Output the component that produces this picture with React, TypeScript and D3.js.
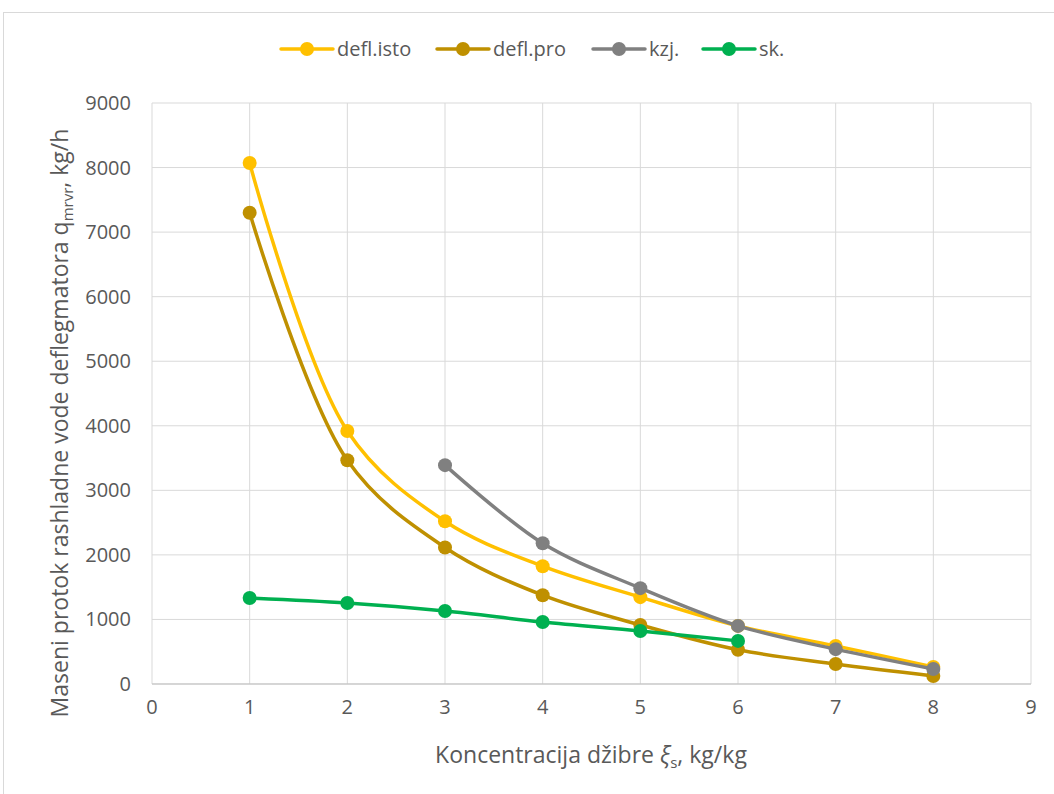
import React from "react";
import * as d3 from "d3";

const xIsto = [1, 2, 3, 4, 5, 6, 7, 8];
const yIsto = [8070, 3920, 2520, 1825, 1345, 900, 590, 265];
const xPro = [1, 2, 3, 4, 5, 6, 7, 8];
const yPro = [7300, 3465, 2115, 1375, 915, 530, 310, 125];
const xKzj = [3, 4, 5, 6, 7, 8];
const yKzj = [3390, 2180, 1485, 900, 540, 232];
const xSk = [1, 2, 3, 4, 5, 6];
const ySk = [1332, 1255, 1130, 960, 822, 668];

const seriesNames = ["defl.isto", "defl.pro", "kzj.", "sk."];
const seriesColors = ["#FFC000", "#BF9000", "#808080", "#00B050"];
const xTicks = [0, 1, 2, 3, 4, 5, 6, 7, 8, 9];
const yTicks = [0, 1000, 2000, 3000, 4000, 5000, 6000, 7000, 8000, 9000];

const W = 1054, H = 794;
const left = 152, right = 1031, top = 103, bottom = 684;
const font = "'Open Sans', sans-serif";

export default function App() {
  const x = d3.scaleLinear().domain([0, 9]).range([left, right]);
  const y = d3.scaleLinear().domain([0, 9000]).range([bottom, top]);
  const series = [
    { xs: xIsto, ys: yIsto },
    { xs: xPro, ys: yPro },
    { xs: xKzj, ys: yKzj },
    { xs: xSk, ys: ySk },
  ];
  const line = d3
    .line<[number, number]>()
    .x((d) => x(d[0]))
    .y((d) => y(d[1]))
    .curve(d3.curveCatmullRom.alpha(0.5));

  const legendX = [281, 437, 593, 703];
  const legendY = 49;

  return (
    <svg
      width={W}
      height={H}
      style={{ position: "absolute", left: 0, top: 0, background: "#fff" }}
    >
      <rect x={3.5} y={12.5} width={W + 10} height={H + 10} fill="#fff" stroke="#D9D9D9" strokeWidth={1} />
      {yTicks.map((t) => (
        <line key={"gy" + t} x1={left} x2={right} y1={y(t)} y2={y(t)} stroke="#D9D9D9" strokeWidth={1} />
      ))}
      {xTicks.map((t) => (
        <line key={"gx" + t} x1={x(t)} x2={x(t)} y1={top} y2={bottom} stroke="#D9D9D9" strokeWidth={1} />
      ))}
      <line x1={left} x2={right} y1={bottom} y2={bottom} stroke="#BFBFBF" strokeWidth={1} />
      {yTicks.map((t) => (
        <text key={"ty" + t} x={131} y={y(t) + 7} textAnchor="end" fontFamily={font} fontSize={20} fill="#595959">
          {t}
        </text>
      ))}
      {xTicks.map((t) => (
        <text key={"tx" + t} x={x(t)} y={bottom + 30} textAnchor="middle" fontFamily={font} fontSize={20} fill="#595959">
          {t}
        </text>
      ))}
      <text x={591} y={763} textAnchor="middle" fontFamily={font} fontSize={23} fill="#595959">
        Koncentracija džibre <tspan fontStyle="italic">ξ</tspan>
        <tspan fontSize={15} dy={5}>s</tspan>
        <tspan dy={-5}>, kg/kg</tspan>
      </text>
      <text
        transform={`translate(68, 423) rotate(-90)`}
        textAnchor="middle"
        fontFamily={font}
        fontSize={23}
        fill="#595959"
      >
        Maseni protok rashladne vode deflegmatora q
        <tspan fontSize={15} dy={5}>mrvr</tspan>
        <tspan dy={-5}>, kg/h</tspan>
      </text>
      {series.map((s, i) => {
        const pts = s.xs.map((v, j) => [v, s.ys[j]] as [number, number]);
        return (
          <g key={"s" + i}>
            <path d={line(pts) || ""} fill="none" stroke={seriesColors[i]} strokeWidth={3.5} strokeLinecap="round" />
            {pts.map((p, j) => (
              <circle key={j} cx={x(p[0])} cy={y(p[1])} r={7} fill={seriesColors[i]} />
            ))}
          </g>
        );
      })}
      {seriesNames.map((n, i) => (
        <g key={"l" + i}>
          <line x1={legendX[i]} x2={legendX[i] + 52} y1={legendY} y2={legendY} stroke={seriesColors[i]} strokeWidth={3.5} strokeLinecap="round" />
          <circle cx={legendX[i] + 26} cy={legendY} r={7} fill={seriesColors[i]} />
          <text x={legendX[i] + 56} y={legendY + 7} fontFamily={font} fontSize={20} fill="#595959">
            {n}
          </text>
        </g>
      ))}
    </svg>
  );
}
